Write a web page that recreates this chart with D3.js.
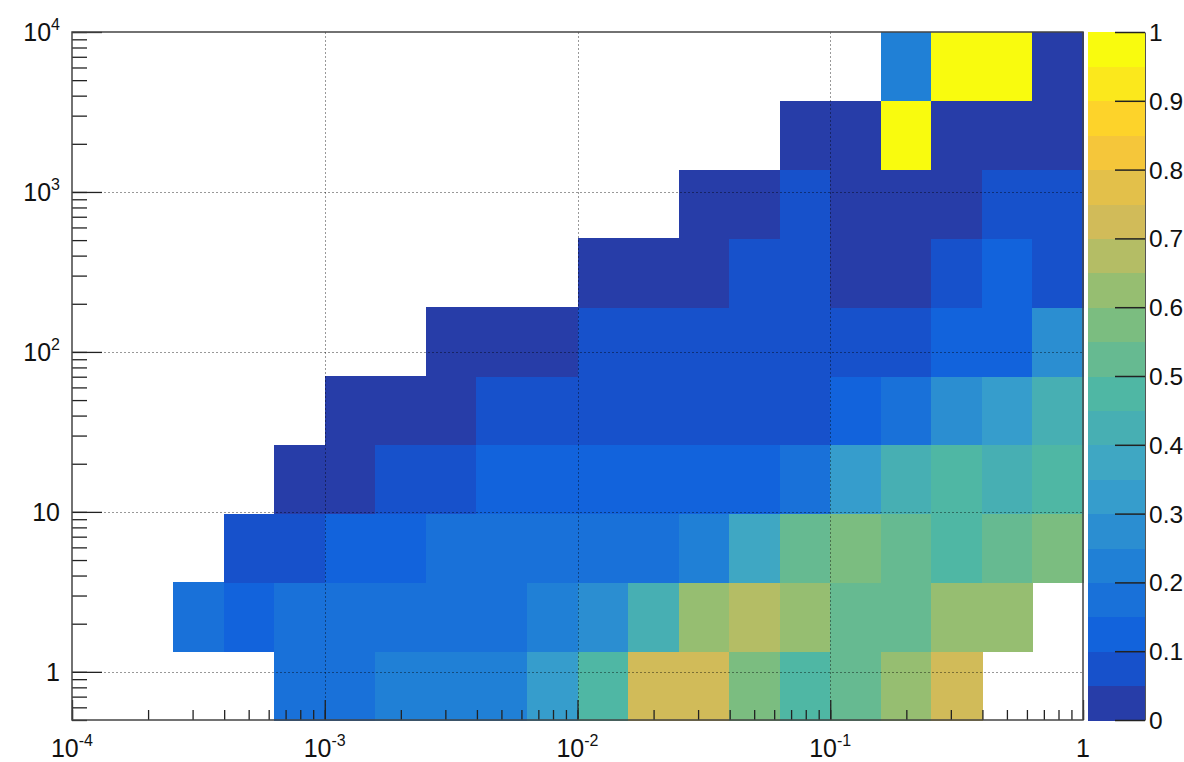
<!DOCTYPE html>
<html>
<head>
<meta charset="utf-8">
<script src="https://cdn.jsdelivr.net/npm/d3@7"></script>
<style>
  html, body { margin: 0; padding: 0; background: #fff; }
  svg { display: block; font-family: "Liberation Sans", Arial, Helvetica, sans-serif; }
</style>
</head>
<body>
<svg id="chart" width="1184" height="762"></svg>
<script>
// ---- Histogram definition: log-spaced bins ----
const xRange = [1e-4, 1];
const yRange = [0.5, 1e4];
const nBinsX = 20;
const nBinsY = 10;
const zRange = [0, 1];
const nContours = 20;

// ---- Bin contents, one array per y bin (lowest y bin first); null = empty bin ----
const yBin0 = [null, null, null, null, 0.17, 0.17, 0.22, 0.22, 0.22, 0.32, 0.47, 0.72, 0.72, 0.57, 0.47, 0.52, 0.62, 0.72, null, null];
const yBin1 = [null, null, 0.17, 0.12, 0.17, 0.17, 0.17, 0.17, 0.17, 0.22, 0.27, 0.42, 0.62, 0.67, 0.62, 0.52, 0.52, 0.62, 0.62, null];
const yBin2 = [null, null, null, 0.07, 0.07, 0.12, 0.12, 0.17, 0.17, 0.17, 0.17, 0.17, 0.22, 0.37, 0.52, 0.57, 0.52, 0.47, 0.52, 0.57];
const yBin3 = [null, null, null, null, 0.02, 0.02, 0.07, 0.07, 0.12, 0.12, 0.12, 0.12, 0.12, 0.12, 0.17, 0.32, 0.42, 0.47, 0.42, 0.47];
const yBin4 = [null, null, null, null, null, 0.02, 0.02, 0.02, 0.07, 0.07, 0.07, 0.07, 0.07, 0.07, 0.07, 0.12, 0.17, 0.27, 0.32, 0.42];
const yBin5 = [null, null, null, null, null, null, null, 0.02, 0.02, 0.02, 0.07, 0.07, 0.07, 0.07, 0.07, 0.07, 0.07, 0.12, 0.12, 0.27];
const yBin6 = [null, null, null, null, null, null, null, null, null, null, 0.02, 0.02, 0.02, 0.07, 0.07, 0.02, 0.02, 0.07, 0.12, 0.07];
const yBin7 = [null, null, null, null, null, null, null, null, null, null, null, null, 0.02, 0.02, 0.07, 0.02, 0.02, 0.02, 0.07, 0.07];
const yBin8 = [null, null, null, null, null, null, null, null, null, null, null, null, null, null, 0.02, 0.02, 1.0, 0.02, 0.02, 0.02];
const yBin9 = [null, null, null, null, null, null, null, null, null, null, null, null, null, null, null, null, 0.22, 1.0, 1.0, 0.02];

// ---- Axis tick labels ----
const xMajorTicks = [1e-4, 1e-3, 1e-2, 1e-1, 1];
const xTickLabels = [["10", "-4"], ["10", "-3"], ["10", "-2"], ["10", "-1"], ["1", ""]];
const yMajorTicks = [1, 10, 100, 1000, 10000];
const yTickLabels = [["1", ""], ["10", ""], ["10", "2"], ["10", "3"], ["10", "4"]];
const zTicks = [0, 0.1, 0.2, 0.3, 0.4, 0.5, 0.6, 0.7, 0.8, 0.9, 1];
const zTickLabels = ["0", "0.1", "0.2", "0.3", "0.4", "0.5", "0.6", "0.7", "0.8", "0.9", "1"];

// ---- Blue-to-yellow colour palette (gradient stops) ----
const palStops = [0.0000, 0.1250, 0.2500, 0.3750, 0.5000, 0.6250, 0.7500, 0.8750, 1.0000];
const palRed   = [0.2082, 0.0592, 0.1250, 0.2350, 0.3100, 0.5301, 0.8186, 0.9956, 0.9764];
const palGreen = [0.1664, 0.3599, 0.5041, 0.6419, 0.7178, 0.7492, 0.7328, 0.7862, 0.9832];
const palBlue  = [0.5293, 0.8684, 0.8385, 0.7914, 0.6425, 0.4662, 0.3499, 0.1968, 0.0539];

const nPal = 255;
const rS = d3.scaleLinear().domain(palStops).range(palRed);
const gS = d3.scaleLinear().domain(palStops).range(palGreen);
const bS = d3.scaleLinear().domain(palStops).range(palBlue);
const palette = d3.range(nPal).map(i => {
  const t = i / (nPal - 1);
  return d3.rgb(Math.round(rS(t) * 255), Math.round(gS(t) * 255), Math.round(bS(t) * 255)).toString();
});
function contourColor(level) {
  const idx = Math.min(nPal - 1, Math.floor((level + 0.99) * nPal / nContours));
  return palette[idx];
}
function valueColor(v) {
  const lvl = Math.max(0, Math.min(nContours - 1, Math.floor((v - zRange[0]) / (zRange[1] - zRange[0]) * nContours)));
  return contourColor(lvl);
}

// ---- Layout ----
const frame = { left: 72, right: 1083, top: 32, bottom: 720 };
const pal = { left: 1088, right: 1145 };
const svg = d3.select("#chart");

const x = d3.scaleLog().domain(xRange).range([frame.left, frame.right]);
const y = d3.scaleLog().domain(yRange).range([frame.bottom, frame.top]);
const z = d3.scaleLinear().domain(zRange).range([frame.bottom, frame.top]);

// log-spaced bin edges
const lx = d3.scaleLinear().domain([0, nBinsX]).range([Math.log10(xRange[0]), Math.log10(xRange[1])]);
const ly = d3.scaleLinear().domain([0, nBinsY]).range([Math.log10(yRange[0]), Math.log10(yRange[1])]);
const xEdges = d3.range(nBinsX + 1).map(i => Math.pow(10, lx(i)));
const yEdges = d3.range(nBinsY + 1).map(j => Math.pow(10, ly(j)));

const rows = [yBin0, yBin1, yBin2, yBin3, yBin4, yBin5, yBin6, yBin7, yBin8, yBin9];
const cells = [];
rows.forEach((row, j) => row.forEach((v, i) => {
  if (v !== null) cells.push({ i, j, v });
}));

// ---- Cells ----
svg.append("g").attr("shape-rendering", "crispEdges")
  .selectAll("rect").data(cells).join("rect")
  .attr("x", d => x(xEdges[d.i]))
  .attr("y", d => y(yEdges[d.j + 1]))
  .attr("width", d => x(xEdges[d.i + 1]) - x(xEdges[d.i]) + 0.6)
  .attr("height", d => y(yEdges[d.j]) - y(yEdges[d.j + 1]) + 0.6)
  .attr("fill", d => valueColor(d.v));

// ---- Grid (dotted, at major decades) ----
const grid = svg.append("g").attr("stroke", "#000").attr("stroke-opacity", 0.4)
  .attr("stroke-width", 1).attr("stroke-dasharray", "2,2");
grid.selectAll("line.gx").data(xMajorTicks.slice(1, -1)).join("line")
  .attr("x1", d => Math.round(x(d)) + 0.5).attr("x2", d => Math.round(x(d)) + 0.5)
  .attr("y1", frame.top).attr("y2", frame.bottom);
grid.selectAll("line.gy").data(yMajorTicks.slice(0, -1)).join("line")
  .attr("x1", frame.left).attr("x2", frame.right)
  .attr("y1", d => Math.round(y(d)) + 0.5).attr("y2", d => Math.round(y(d)) + 0.5);

// ---- Axes with log ticks (ticks drawn inside the frame) ----
const axisColor = "#222";
const xAxis = d3.axisBottom(x).tickValues(xMajorTicks).tickSizeInner(-20).tickSizeOuter(0).tickFormat("");
const xMinor = d3.axisBottom(x).tickValues(x.ticks()).tickSizeInner(-10).tickSizeOuter(0).tickFormat("");
const yAxis = d3.axisLeft(y).tickValues(yMajorTicks).tickSizeInner(-30).tickSizeOuter(0).tickFormat("");
const yMinor = d3.axisLeft(y).tickValues(y.ticks()).tickSizeInner(-15).tickSizeOuter(0).tickFormat("");

[xMinor, xAxis].forEach(a => {
  const g = svg.append("g").attr("transform", `translate(0,${frame.bottom})`).call(a);
  g.select(".domain").remove();
  g.selectAll("line").attr("stroke", axisColor).attr("stroke-width", 1.3);
});
[yMinor, yAxis].forEach(a => {
  const g = svg.append("g").attr("transform", `translate(${frame.left},0)`).call(a);
  g.select(".domain").remove();
  g.selectAll("line").attr("stroke", axisColor).attr("stroke-width", 1.3);
});

// ---- Frame ----
svg.append("rect")
  .attr("x", frame.left).attr("y", frame.top)
  .attr("width", frame.right - frame.left).attr("height", frame.bottom - frame.top)
  .attr("fill", "none").attr("stroke", "#444").attr("stroke-width", 1.5);

// ---- Tick labels ----
const labelSize = 25, expSize = 16;
function addLabel(g, parts, px, py, anchor) {
  const t = g.append("text").attr("x", px).attr("y", py).attr("text-anchor", anchor)
    .attr("font-size", labelSize).attr("fill", "#111");
  t.append("tspan").text(parts[0]);
  if (parts[1]) t.append("tspan").attr("dy", -11).attr("font-size", expSize).text(parts[1]);
}
const xl = svg.append("g");
xMajorTicks.forEach((v, i) => addLabel(xl, xTickLabels[i], x(v), 757, "middle"));
const yl = svg.append("g");
yMajorTicks.forEach((v, i) => addLabel(yl, yTickLabels[i], 60, y(v) + 9, "end"));

// ---- Colour palette bar ----
const levels = d3.range(nContours);
svg.append("g").attr("shape-rendering", "crispEdges")
  .selectAll("rect").data(levels).join("rect")
  .attr("x", pal.left).attr("width", pal.right - pal.left)
  .attr("y", d => z(zRange[0] + (d + 1) * (zRange[1] - zRange[0]) / nContours))
  .attr("height", d => z(zRange[0] + d * (zRange[1] - zRange[0]) / nContours) - z(zRange[0] + (d + 1) * (zRange[1] - zRange[0]) / nContours) + 0.6)
  .attr("fill", d => contourColor(d));

const zAxis = d3.axisRight(z).tickValues(zTicks).tickSizeInner(-30).tickSizeOuter(0).tickFormat("");
const zg = svg.append("g").attr("transform", `translate(${pal.right},0)`).call(zAxis);
zg.select(".domain").attr("stroke", "#555").attr("stroke-width", 1);
zg.selectAll("line").attr("stroke", "#222").attr("stroke-width", 1.5);

const zl = svg.append("g");
zTicks.forEach((v, i) => {
  zl.append("text").attr("x", pal.right + 4).attr("y", z(v) + 9)
    .attr("font-size", 24.5).attr("fill", "#111").text(zTickLabels[i]);
});
</script>
</body>
</html>
